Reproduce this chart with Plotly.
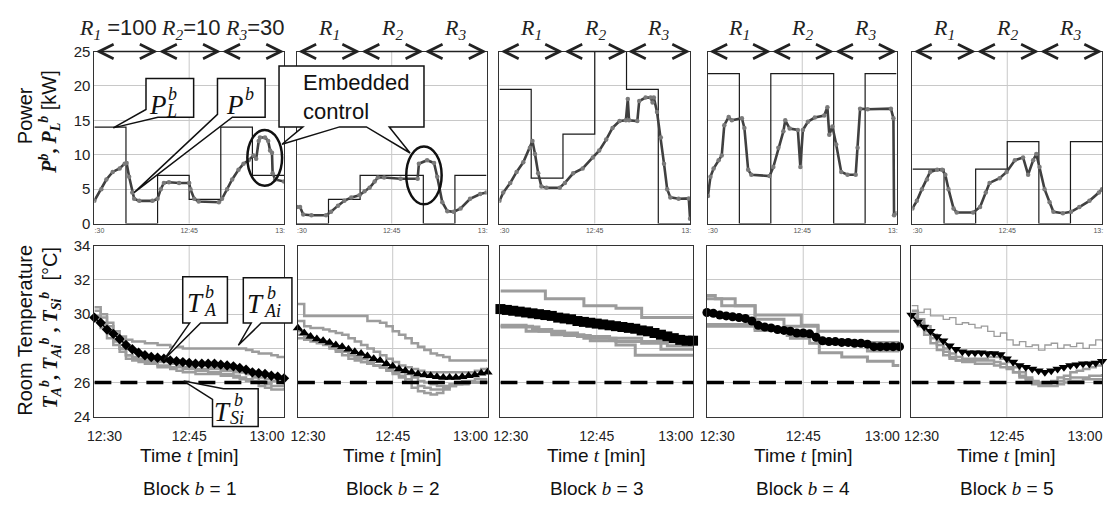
import plotly.graph_objects as go

W, H = 1113, 506
SANS = "Liberation Sans"
SERIF = "Liberation Serif"

# ---------------------------------------------------------------- data
# time axis: minutes after 12:30
STEP_EDGES = [0, 5, 10, 15, 20, 25]
TA_TIME = list(range(31))

# target power P_L^b [kW], one value per 5-minute step
PL_B1 = [14, 0, 7, 3.5, 14, 7]
PL_B2 = [0, 3.5, 7, 7, 0, 7]
PL_B3 = [19.5, 6.6, 13, 27, 19.5, 0]
PL_B4 = [21.8, 0, 21.8, 21.8, 0, 21.8]
PL_B5 = [7.9, 0, 7.9, 11.9, 0, 11.9]

# measured power P^b [kW]
PB1_T = [0, 1.1, 1.9, 2.9, 4.0, 4.8, 5.1, 5.5, 6.0, 6.3, 7.1, 9.2, 10.0, 10.5, 11.0, 11.8,
         13.4, 15.0, 15.2, 15.8, 16.5, 19.7, 20.2, 21.0, 21.8, 22.8, 23.6, 24.4, 25.2, 25.6,
         26.0, 26.2, 27.0, 27.5, 27.8, 28.1, 28.2, 28.6, 30.0]
PB1_V = [3.3, 5.0, 6.4, 7.5, 8.0, 8.7, 8.8, 6.8, 4.5, 3.6, 3.3, 3.3, 3.6, 5.0, 5.9, 6.0,
         5.9, 5.9, 5.0, 3.6, 3.2, 3.1, 3.6, 5.0, 6.4, 7.8, 8.7, 9.2, 9.9, 9.4,
         12.0, 12.5, 12.5, 12.0, 10.6, 10.3, 7.3, 6.4, 6.1]
PB2_T = [0, 0.5, 1.0, 2.3, 4.6, 5.4, 6.5, 7.5, 8.6, 9.9, 10.7, 11.5, 12.3, 12.8, 13.8,
         16.4, 19.1, 19.3, 20.6, 21.7, 22.2, 23.0, 23.8, 24.8, 25.9, 27.4, 29.0, 30.0]
PB2_V = [2.4, 2.4, 1.3, 1.2, 1.2, 1.7, 2.6, 3.3, 3.8, 4.1, 4.7, 5.2, 6.1, 6.7, 6.7,
         6.5, 6.5, 8.7, 9.2, 8.8, 6.8, 3.1, 1.8, 1.7, 2.2, 3.6, 4.3, 4.5]
PB3_T = [0, 0.6, 1.7, 2.7, 3.75, 4.8, 5.2, 5.6, 6.1, 6.6, 7.4, 9.5, 10.3, 11.6, 13.1, 14.7,
         15.7, 16.8, 17.8, 18.9, 19.9, 20.2, 20.4, 21.7, 22.0, 23.0, 23.8, 24.1, 24.3, 24.8,
         25.4, 25.9, 26.4, 26.9, 28.2, 29.8, 30.0]
PB3_V = [3.3, 4.5, 5.9, 7.5, 8.9, 11.0, 12.0, 10.1, 7.3, 5.4, 5.2, 5.2, 5.9, 7.3, 8.0, 9.6,
         10.6, 12.2, 13.9, 14.9, 15.0, 18.1, 15.0, 14.9, 17.8, 18.3, 18.3, 17.6, 18.3, 16.2,
         12.5, 8.7, 5.0, 3.8, 3.6, 3.65, 0.7]
PB4_T = [0, 0.4, 0.9, 1.7, 2.2, 2.6, 3.3, 3.8, 5.4, 5.8, 6.4, 6.9, 9.8, 10.4, 11.2, 12.0,
         12.3, 13.0, 14.3, 14.7, 15.1, 15.9, 17.0, 18.5, 19.0, 19.3, 19.8, 20.4, 21.2, 22.2,
         23.5, 23.8, 24.2, 25.4, 29.1, 29.5, 29.6, 30.0]
PB4_V = [4.0, 6.8, 8.0, 9.2, 9.9, 14.3, 15.5, 15.0, 15.3, 13.9, 7.8, 7.1, 6.9, 8.2, 11.0, 13.4,
         15.0, 13.8, 13.6, 8.2, 13.6, 14.8, 15.4, 15.7, 16.9, 12.9, 14.1, 11.5, 7.5, 7.1,
         7.1, 11.0, 16.7, 16.6, 16.7, 15.3, 1.2, 1.5]
PB5_T = [0, 0.7, 1.5, 2.3, 2.8, 3.9, 4.7, 5.2, 5.7, 6.5, 7.0, 9.6, 10.7, 11.6, 12.2, 13.8,
         14.9, 16.2, 17.5, 18.3, 19.1, 19.6, 20.1, 20.9, 21.7, 22.3, 23.8, 25.1, 26.4, 28.0,
         29.5, 30.0]
PB5_V = [2.2, 3.3, 5.0, 6.4, 7.5, 7.8, 7.8, 7.1, 5.0, 2.2, 1.6, 1.6, 2.4, 4.5, 5.9, 6.6,
         7.5, 9.2, 9.6, 7.1, 9.2, 10.1, 8.2, 5.0, 3.1, 1.7, 1.5, 1.7, 2.4, 3.3,
         4.5, 5.0]

# average room temperature T_A^b [degC], one reading per minute
TA_B1 = [29.8, 29.5, 29.1, 28.85, 28.55, 28.2, 27.95, 27.75, 27.6, 27.5, 27.45, 27.4, 27.3,
         27.25, 27.2, 27.15, 27.1, 27.1, 27.1, 27.1, 27.05, 27.0, 26.95, 26.85, 26.75, 26.6,
         26.55, 26.5, 26.4, 26.35, 26.25]
TA_B2 = [29.2, 28.9, 28.7, 28.55, 28.45, 28.35, 28.2, 28.1, 27.95, 27.8, 27.7, 27.55, 27.4,
         27.3, 27.1, 26.95, 26.8, 26.7, 26.6, 26.5, 26.45, 26.4, 26.35, 26.3, 26.3, 26.3,
         26.35, 26.4, 26.45, 26.55, 26.6]
TA_B3 = [30.3, 30.25, 30.2, 30.15, 30.1, 30.05, 30.0, 29.95, 29.9, 29.8, 29.75, 29.7, 29.6,
         29.55, 29.5, 29.45, 29.4, 29.35, 29.3, 29.25, 29.2, 29.15, 29.05, 29.0, 28.9, 28.8,
         28.7, 28.6, 28.5, 28.45, 28.45]
TA_B4 = [30.1, 30.05, 29.95, 29.9, 29.85, 29.8, 29.75, 29.6, 29.35, 29.25, 29.2, 29.1, 29.05,
         29.0, 28.9, 28.9, 28.85, 28.65, 28.45, 28.4, 28.4, 28.35, 28.35, 28.3, 28.3, 28.25,
         28.1, 28.1, 28.1, 28.1, 28.1]
TA_B5 = [29.95, 29.55, 29.25, 29.0, 28.7, 28.45, 28.15, 27.95, 27.8, 27.75, 27.75, 27.75,
         27.7, 27.7, 27.65, 27.4, 27.2, 27.0, 26.9, 26.8, 26.7, 26.6, 26.7, 26.8, 26.9, 27.0,
         27.05, 27.1, 27.1, 27.15, 27.25]

# set-point temperature T_Si^b [degC]
TSI = [26, 26, 26, 26, 26]

# individual room temperatures T_Ai^b [degC], blocks 1, 2, 5: one reading per minute
TAI_B1 = [
    [30.4, 30.0, 29.5, 29.0, 28.7, 28.5, 28.4, 28.4, 28.3, 28.3, 28.2, 28.2, 28.1, 28.1, 28.0,
     28.0, 28.0, 28.0, 28.0, 28.0, 28.0, 28.0, 28.0, 28.0, 27.9, 27.8, 27.7, 27.7, 27.6, 27.5, 27.5],
    [30.2, 29.8, 29.3, 28.8, 28.4, 28.0, 27.8, 27.6, 27.5, 27.5, 27.4, 27.4, 27.3, 27.2, 27.2,
     27.1, 27.0, 27.0, 26.9, 26.9, 26.8, 26.8, 26.7, 26.6, 26.5, 26.4, 26.3, 26.2, 26.1, 26.0, 26.0],
    [29.9, 29.5, 29.0, 28.5, 28.0, 27.6, 27.4, 27.3, 27.2, 27.2, 27.0, 27.0, 26.9, 26.9, 26.8,
     26.8, 26.7, 26.7, 26.6, 26.6, 26.5, 26.5, 26.4, 26.3, 26.2, 26.1, 26.0, 25.9, 25.8, 25.8, 25.9],
    [29.6, 29.2, 28.6, 28.2, 27.8, 27.4, 27.3, 27.2, 27.1, 27.1, 26.9, 26.9, 26.8, 26.7, 26.6,
     26.6, 26.5, 26.5, 26.5, 26.5, 26.4, 26.4, 26.3, 26.2, 26.1, 26.0, 25.8, 25.7, 25.6, 25.6, 25.7],
    [29.8, 29.4, 28.9, 28.4, 28.0, 27.6, 27.5, 27.4, 27.3, 27.3, 27.2, 27.2, 27.1, 27.0, 26.9,
     26.9, 26.8, 26.8, 26.8, 26.8, 26.7, 26.7, 26.6, 26.6, 26.5, 26.3, 26.1, 26.0, 26.1, 26.2, 26.1],
]
TAI_B2 = [
    [30.6, 29.9, 29.9, 29.9, 29.9, 29.9, 29.9, 29.9, 29.9, 29.9, 29.9, 29.6, 29.6, 29.5, 29.3,
     29.0, 28.8, 28.6, 28.3, 28.1, 27.9, 27.7, 27.6, 27.5, 27.3, 27.3, 27.3, 27.3, 27.3, 27.3, 27.3],
    [29.6, 29.3, 29.2, 29.2, 29.1, 29.0, 28.9, 28.8, 28.6, 28.4, 28.2, 28.0, 27.8, 27.6, 27.4,
     27.2, 27.0, 26.9, 26.8, 26.7, 26.6, 26.6, 26.6, 26.6, 26.6, 26.6, 26.6, 26.6, 26.7, 26.8, 26.9],
    [28.6, 28.5, 28.4, 28.3, 28.2, 28.0, 27.9, 27.8, 27.6, 27.4, 27.2, 27.1, 27.0, 26.9, 26.8,
     26.6, 26.4, 26.2, 26.0, 25.8, 25.7, 25.6, 25.6, 25.7, 25.8, 25.9, 26.0, 26.0, 26.0, 26.1, 26.1],
    [29.0, 28.8, 28.6, 28.4, 28.3, 28.1, 27.8, 27.6, 27.4, 27.3, 27.2, 27.1, 27.0, 26.9, 26.7,
     26.5, 26.3, 26.0, 25.7, 25.5, 25.4, 25.3, 25.4, 25.6, 25.8, 25.9, 25.9, 26.0, 26.0, 26.0, 26.0],
    [28.8, 28.7, 28.6, 28.5, 28.4, 28.2, 28.0, 27.8, 27.6, 27.5, 27.4, 27.2, 27.0, 26.9, 26.8,
     26.7, 26.6, 26.5, 26.3, 26.1, 26.0, 25.9, 25.8, 25.8, 25.9, 26.0, 26.1, 26.1, 26.2, 26.2, 26.2],
]
TAI_B5 = [
    [30.2, 29.7, 29.3, 28.8, 28.4, 28.0, 27.7, 27.5, 27.4, 27.4, 27.3, 27.3, 27.3, 27.2, 27.1,
     26.9, 26.6, 26.3, 26.1, 25.9, 25.8, 25.8, 25.8, 25.9, 26.0, 26.1, 26.1, 26.2, 26.2, 26.2, 26.2],
    [30.0, 29.5, 29.0, 28.6, 28.2, 27.8, 27.5, 27.3, 27.2, 27.2, 27.1, 27.1, 27.1, 27.0, 26.9,
     26.8, 26.6, 26.4, 26.2, 26.0, 25.9, 25.9, 26.0, 26.1, 26.2, 26.3, 26.3, 26.3, 26.4, 26.4, 26.5],
    [29.8, 29.3, 28.8, 28.3, 27.9, 27.6, 27.4, 27.3, 27.3, 27.3, 27.4, 27.4, 27.5, 27.5, 27.4,
     27.2, 26.9, 26.6, 26.3, 26.1, 26.0, 26.0, 26.1, 26.3, 26.4, 26.6, 26.7, 26.8, 26.9, 27.0, 27.1],
]
# noisier sensor drawn with a thin line (block 5)
TAI_B5_THIN = [30.5, 30.1, 30.3, 29.9, 29.9, 29.7, 29.8, 29.4, 29.5, 29.4, 29.2, 29.3, 29.0,
               28.7, 28.9, 28.5, 28.2, 28.4, 28.1, 28.2, 27.9, 28.2, 28.3, 28.0, 28.2, 28.1,
               28.3, 28.0, 28.2, 28.5, 28.4]

# blocks 3 and 4: step breakpoints (minute, degC)
TAI_B3_T = [[0, 7, 13, 18, 22, 30], [0, 5, 8, 12, 17, 22, 26, 30],
            [0, 4, 8, 13, 18, 25, 30], [0, 6, 10, 14, 18, 21, 30]]
TAI_B3_V = [[31.35, 30.9, 30.5, 30.35, 29.8, 29.8], [29.3, 29.1, 28.9, 28.7, 28.6, 28.3, 28.15, 28.15],
            [29.35, 29.0, 28.8, 28.6, 28.4, 27.95, 27.95], [29.25, 29.0, 28.75, 28.45, 28.2, 27.6, 27.6]]
TAI_B4_T = [[0, 1.3, 4.4, 7.5, 14.7, 17.3, 30], [0, 2.3, 7.5, 12, 17.3, 25, 30],
            [0, 7.5, 13, 16, 17.5, 21, 25, 29, 30], [0, 7.5, 12.5, 17, 30]]
TAI_B4_V = [[31.1, 30.9, 30.5, 29.95, 29.35, 29.0, 29.0], [30.9, 30.5, 29.7, 29.3, 28.3, 27.85, 27.85],
            [29.4, 29.15, 28.6, 28.3, 27.75, 27.5, 27.25, 27.0, 27.0], [29.3, 29.05, 28.75, 28.35, 28.35]]

R_WEIGHTS = ["100", "10", "30"]
BLOCKS = [1, 2, 3, 4, 5]

# ---------------------------------------------------------------- layout helpers
TOP_X = [(88, 279), (292, 483), (496, 688), (706, 896), (912, 1103)]
BOT_X = [(88, 279), (293, 484), (497, 691), (705, 899), (911, 1103)]
TOP_Y = (44, 222)
BOT_Y = (245, 422)


def PX(x):
    return x / W


def PY(y):
    return 1 - y / H


def ax_names(i):
    s = "" if i == 1 else str(i)
    return "x" + s, "y" + s, "xaxis" + s, "yaxis" + s


def path(points):
    pts = [f"{PX(x):.5f},{PY(y):.5f}" for x, y in points]
    return "M" + " L".join(pts) + " Z"


fig = go.Figure()
layout_axes = {}
shapes = []
annotations = []

PL_ALL = [PL_B1, PL_B2, PL_B3, PL_B4, PL_B5]
PB_ALL = [(PB1_T, PB1_V), (PB2_T, PB2_V), (PB3_T, PB3_V), (PB4_T, PB4_V), (PB5_T, PB5_V)]
TA_ALL = [TA_B1, TA_B2, TA_B3, TA_B4, TA_B5]
TA_SYMBOLS = ["diamond", "triangle-up", "square", "circle", "triangle-down"]
TA_SIZES = [8, 9, 10, 9, 9]

GRID = "#c8c8c8"
FRAME = "#333333"
GRAY = "#9c9c9c"

for k, b in enumerate(BLOCKS):
    # ---------------- power panel
    xa, ya, xk, yk = ax_names(b)
    pl = PL_ALL[k]
    fig.add_trace(go.Scatter(x=STEP_EDGES + [30], y=pl + [pl[-1]], mode="lines",
                             line=dict(color="#1a1a1a", width=1.2, shape="hv"),
                             xaxis=xa, yaxis=ya, hoverinfo="skip"))
    pt, pv = PB_ALL[k]
    fig.add_trace(go.Scatter(x=pt, y=pv, mode="lines+markers",
                             line=dict(color="#404040", width=2.6),
                             marker=dict(size=4.5, color="#7a7a7a", symbol="circle"),
                             xaxis=xa, yaxis=ya))
    l, r = TOP_X[k]
    layout_axes[xk] = dict(domain=[PX(l), PX(r)], range=[0, 30], anchor=ya,
                           tickmode="array", tickvals=[0.8, 15, 29.4],
                           ticktext=[":30", "12:45", "13:"],
                           tickfont=dict(size=7, color="#555"), ticks="",
                           showgrid=False, zeroline=False, showline=True, mirror=True,
                           linecolor=FRAME, linewidth=1)
    layout_axes[yk] = dict(domain=[PY(TOP_Y[1]), PY(TOP_Y[0])], range=[0, 25], anchor=xa,
                           tickmode="array", tickvals=[0, 5, 10, 15, 20, 25],
                           showticklabels=(b == 1), tickfont=dict(size=15, color="#222"),
                           ticks="", showgrid=True, gridcolor=GRID, gridwidth=1,
                           zeroline=False, showline=True, mirror=True,
                           linecolor=FRAME, linewidth=1)
    shapes.append(dict(type="line", xref=xa, yref=ya + " domain", x0=15, x1=15, y0=0, y1=1,
                       line=dict(color=GRID, width=1), layer="below"))

    # R-region arrows along the top edge
    for j in range(3):
        annotations.append(dict(x=10 * (j + 1), y=25, ax=10 * j, ay=25, xref=xa, yref=ya,
                                axref=xa, ayref=ya, text="", showarrow=True,
                                arrowside="end+start", arrowhead=5, startarrowhead=5,
                                arrowsize=2.2, startarrowsize=2.2, arrowwidth=1.3,
                                arrowcolor="#222"))
        rlab = (f'<span style="font-family:{SERIF}"><i>R</i><sub><i>{j + 1}</i></sub></span>')
        if b == 1:
            rlab += (" =" if j == 0 else "=") + R_WEIGHTS[j]
            cx = [3.8, 15.2, 25.4][j]
        else:
            cx = 10 * j + 5
        annotations.append(dict(x=cx, y=PY(21), xref=xa, yref="paper", text=rlab,
                                showarrow=False, xanchor="center", yanchor="middle",
                                font=dict(family=SANS, size=22, color="#222")))

    # ---------------- temperature panel
    xb, yb, xbk, ybk = ax_names(b + 5)
    if b == 1:
        for line in TAI_B1:
            fig.add_trace(go.Scatter(x=TA_TIME, y=line, mode="lines",
                                     line=dict(color=GRAY, width=2.5, shape="hv"),
                                     xaxis=xb, yaxis=yb))
    elif b == 2:
        for line in TAI_B2:
            fig.add_trace(go.Scatter(x=TA_TIME, y=line, mode="lines",
                                     line=dict(color=GRAY, width=2.5, shape="hv"),
                                     xaxis=xb, yaxis=yb))
    elif b == 3:
        for tt, vv in zip(TAI_B3_T, TAI_B3_V):
            fig.add_trace(go.Scatter(x=tt, y=vv, mode="lines",
                                     line=dict(color=GRAY, width=3, shape="hv"),
                                     xaxis=xb, yaxis=yb))
    elif b == 4:
        for tt, vv in zip(TAI_B4_T, TAI_B4_V):
            fig.add_trace(go.Scatter(x=tt, y=vv, mode="lines",
                                     line=dict(color=GRAY, width=3, shape="hv"),
                                     xaxis=xb, yaxis=yb))
    else:
        fig.add_trace(go.Scatter(x=TA_TIME, y=TAI_B5_THIN, mode="lines",
                                 line=dict(color=GRAY, width=1.3, shape="hv"),
                                 xaxis=xb, yaxis=yb))
        for line in TAI_B5:
            fig.add_trace(go.Scatter(x=TA_TIME, y=line, mode="lines",
                                     line=dict(color=GRAY, width=2.5, shape="hv"),
                                     xaxis=xb, yaxis=yb))
    fig.add_trace(go.Scatter(x=[0, 30], y=[TSI[k], TSI[k]], mode="lines",
                             line=dict(color="black", width=3.5, dash="17px,9px"),
                             xaxis=xb, yaxis=yb))
    fig.add_trace(go.Scatter(x=TA_TIME, y=TA_ALL[k], mode="lines+markers",
                             line=dict(color="black", width=1.5),
                             marker=dict(symbol=TA_SYMBOLS[k], size=TA_SIZES[k], color="black"),
                             xaxis=xb, yaxis=yb, cliponaxis=False))
    l, r = BOT_X[k]
    layout_axes[xbk] = dict(domain=[PX(l), PX(r)], range=[0, 30], anchor=yb,
                            tickmode="array", tickvals=[1.6, 15, 27.3],
                            ticktext=["12:30", "12:45", "13:00"],
                            tickfont=dict(size=14, color="#222"), ticks="",
                            ticklabelstandoff=6,
                            showgrid=False, zeroline=False, showline=True, mirror=True,
                            linecolor=FRAME, linewidth=1)
    layout_axes[ybk] = dict(domain=[PY(BOT_Y[1]), PY(BOT_Y[0])], range=[24, 34], anchor=xb,
                            tickmode="array", tickvals=[24, 26, 28, 30, 32, 34],
                            showticklabels=(b == 1), tickfont=dict(size=15, color="#222"),
                            ticks="", showgrid=True, gridcolor=GRID, gridwidth=1,
                            zeroline=False, showline=True, mirror=True,
                            linecolor=FRAME, linewidth=1)
    shapes.append(dict(type="line", xref=xb, yref=yb + " domain", x0=15, x1=15, y0=0, y1=1,
                       line=dict(color=GRID, width=1), layer="below"))

    cxp = PX((l + r) / 2)
    annotations.append(dict(x=cxp, y=PY(462), xref="paper", yref="paper",
                            text=f'Time <span style="font-family:{SERIF}"><i>t</i></span> [min]',
                            showarrow=False, xanchor="center", yanchor="middle",
                            font=dict(family=SANS, size=19, color="#111")))
    annotations.append(dict(x=cxp, y=PY(496), xref="paper", yref="paper",
                            text=f'Block <span style="font-family:{SERIF}"><i>b</i></span> = {b}',
                            showarrow=False, xanchor="center", yanchor="middle",
                            font=dict(family=SANS, size=19, color="#111")))

# ---------------------------------------------------------------- y-axis titles
annotations.append(dict(x=PX(18), y=PY(110), xref="paper", yref="paper", text="Power",
                        textangle=-90, showarrow=False, xanchor="center", yanchor="middle",
                        font=dict(family=SANS, size=20, color="#111")))
pl_title = (f'<span style="font-family:{SERIF}"><b><i>P</i></b><sup><b><i>b</i></b></sup>'
            f'<b>, </b><b><i>P</i></b><sub><b><i>L</i></b></sub><sup><b><i>b</i></b></sup></span> [kW]')
annotations.append(dict(x=PX(43), y=PY(117), xref="paper", yref="paper", text=pl_title,
                        textangle=-90, showarrow=False, xanchor="center", yanchor="middle",
                        font=dict(family=SANS, size=20, color="#111")))
annotations.append(dict(x=PX(18), y=PY(332), xref="paper", yref="paper",
                        text="Room Temperature", textangle=-90, showarrow=False,
                        xanchor="center", yanchor="middle",
                        font=dict(family=SANS, size=20, color="#111")))
t_title = (f'<span style="font-family:{SERIF}"><b><i>T</i></b><sub><b><i>A</i></b></sub>'
           f'<sup><b><i>b</i></b></sup><b>, </b><b><i>T</i></b><sub><b><i>Ai</i></b></sub>'
           f'<sup><b><i>b</i></b></sup><b> , </b><b><i>T</i></b><sub><b><i>Si</i></b></sub>'
           f'<sup><b><i>b</i></b></sup></span>  [°C]')
annotations.append(dict(x=PX(44), y=PY(330), xref="paper", yref="paper", text=t_title,
                        textangle=-90, showarrow=False, xanchor="center", yanchor="middle",
                        font=dict(family=SANS, size=20, color="#111")))

# ---------------------------------------------------------------- callouts
CALLOUTS = [
    [(140, 72), (188, 72), (188, 112), (152, 112), (107, 123), (140, 104)],
    [(212, 72), (260, 72), (260, 112), (227, 112), (128, 190), (212, 109)],
    [(274, 59), (420, 59), (420, 122), (385, 122), (406, 149), (362, 122), (335, 122),
     (277, 140), (298, 122), (274, 122)],
    [(177, 277), (222, 277), (222, 325), (195, 325), (158, 363), (184, 325), (177, 325)],
    [(238, 278), (287, 278), (287, 325), (256, 325), (233, 348), (246, 325), (238, 325)],
    [(218, 393), (253, 393), (253, 432), (207, 432), (207, 404), (178, 385)],
]
for pts in CALLOUTS:
    shapes.append(dict(type="path", xref="paper", yref="paper", path=path(pts),
                       fillcolor="white", line=dict(color="#111", width=1.5), layer="above"))

# highlighted regions (embedded control)
shapes.append(dict(type="circle", xref="x", yref="y", x0=24.2, x1=29.7, y0=5.5, y1=13.6,
                   line=dict(color="#111", width=2.5), layer="above"))
shapes.append(dict(type="circle", xref="x2", yref="y2", x0=17.3, x1=22.9, y0=2.8, y1=11.2,
                   line=dict(color="#111", width=2.5), layer="above"))

annotations.append(dict(x=PX(296), y=PY(91), xref="paper", yref="paper",
                        text="Embedded<br>control", align="left", showarrow=False,
                        xanchor="left", yanchor="middle",
                        font=dict(family=SANS, size=22, color="#111")))


def math_label(base, sup, sub, base_xy, sup_xy, sub_xy):
    out = [dict(x=PX(base_xy[0]), y=PY(base_xy[1]), text=f"<i>{base}</i>",
                font=dict(family=SERIF, size=27, color="#111"))]
    out.append(dict(x=PX(sup_xy[0]), y=PY(sup_xy[1]), text=f"<i>{sup}</i>",
                    font=dict(family=SERIF, size=18, color="#111")))
    if sub:
        out.append(dict(x=PX(sub_xy[0]), y=PY(sub_xy[1]), text=f"<i>{sub}</i>",
                        font=dict(family=SERIF, size=18, color="#111")))
    for a in out:
        a.update(xref="paper", yref="paper", showarrow=False, xanchor="left",
                 yanchor="middle", borderpad=0)
    return out


annotations += math_label("P", "b", "L", (142, 99), (161, 88), (159, 106))
annotations += math_label("P", "b", None, (220, 99), (239, 88), None)
annotations += math_label("T", "b", "A", (180, 304), (198, 293), (197, 311))
annotations += math_label("T", "b", "Ai", (241, 305), (261, 294), (258, 312))
annotations += math_label("T", "b", "Si", (207, 417), (228, 405), (224, 423))

fig.update_layout(
    width=W, height=H, autosize=False,
    margin=dict(l=0, r=0, t=0, b=0),
    paper_bgcolor="white", plot_bgcolor="white",
    showlegend=False,
    font=dict(family=SANS, color="#222"),
    shapes=shapes, annotations=annotations,
    **layout_axes,
)

fig.write_html("out.html")
